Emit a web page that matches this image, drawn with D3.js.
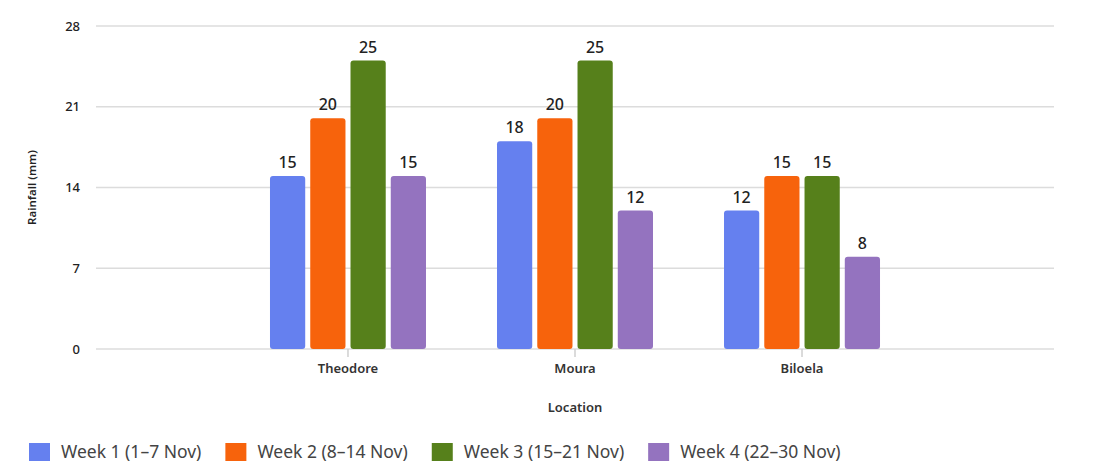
<script src="https://d3js.org/d3.v7.min.js"></script>
<style>
  body { margin: 0; background: #fff; }
  text { font-family: "Noto Sans", "Open Sans", sans-serif; }
</style>
<svg width=1120 height=476 id="chart"></svg>
<script>

// chart data
var locations = ['Theodore', 'Moura', 'Biloela'];
var weeks = ['Week 1 (1–7 Nov)', 'Week 2 (8–14 Nov)', 'Week 3 (15–21 Nov)', 'Week 4 (22–30 Nov)'];
var week1 = [15, 18, 12];
var week2 = [20, 20, 15];
var week3 = [25, 25, 15];
var week4 = [15, 12, 8];
var yTicks = [0, 7, 14, 21, 28];
var colors = ['#6580ef', '#f7630c', '#56801b', '#9473bf'];

var series = [week1, week2, week3, week4];

var svg = d3.select('#chart');

var plotLeft = 96, plotRight = 1054, plotTop = 26, plotBottom = 349;

var x = d3.scalePoint()
  .domain(locations)
  .range([plotLeft, plotRight])
  .padding(1.11);

var inner = d3.scaleBand()
  .domain(d3.range(weeks.length))
  .range([-78, 78])
  .paddingInner(0.125);

var y = d3.scaleLinear()
  .domain([0, 28])
  .range([plotBottom, plotTop]);

// grid lines
svg.append('g')
  .selectAll('line')
  .data(yTicks)
  .enter().append('line')
  .attr('x1', plotLeft)
  .attr('x2', plotRight)
  .attr('y1', function(d) { return y(d); })
  .attr('y2', function(d) { return y(d); })
  .style('stroke', '#dcdcdc')
  .style('stroke-width', 1.5);

// y tick labels
svg.append('g')
  .selectAll('text')
  .data(yTicks)
  .enter().append('text')
  .attr('x', 80)
  .attr('y', function(d) { return y(d); })
  .attr('dy', '0.35em')
  .attr('text-anchor', 'end')
  .style('font-size', '13px')
  .style('font-weight', 500)
  .style('fill', '#222')
  .text(function(d) { return d; });

// x ticks + labels
var xt = svg.append('g')
  .selectAll('g')
  .data(locations)
  .enter().append('g')
  .attr('transform', function(d) { return 'translate(' + x(d) + ',0)'; });

xt.append('line')
  .attr('y1', plotBottom)
  .attr('y2', plotBottom + 8)
  .style('stroke', '#cfcfcf')
  .style('stroke-width', 1.5);

xt.append('text')
  .attr('y', 373)
  .attr('text-anchor', 'middle')
  .style('font-size', '13px')
  .style('font-weight', 600)
  .style('fill', '#333')
  .text(function(d) { return d; });

// axis titles
svg.append('text')
  .attr('x', x('Moura'))
  .attr('y', 412)
  .attr('text-anchor', 'middle')
  .style('font-size', '13px')
  .style('font-weight', 600)
  .style('fill', '#333')
  .text('Location');

svg.append('text')
  .attr('transform', 'translate(36,' + ((plotTop + plotBottom) / 2) + ') rotate(-90)')
  .attr('text-anchor', 'middle')
  .style('font-size', '11.5px')
  .style('font-weight', 600)
  .style('fill', '#222')
  .text('Rainfall (mm)');

// bars
var bars = [];
series.forEach(function(vals, s) {
  vals.forEach(function(v, i) {
    bars.push({loc: locations[i], s: s, v: v});
  });
});

svg.append('g')
  .selectAll('path')
  .data(bars)
  .enter().append('path')
  .attr('d', function(d) {
    var x0 = x(d.loc) + inner(d.s), w = inner.bandwidth();
    var y0 = y(d.v), h = plotBottom - y0, r = 3;
    var p = d3.path();
    p.moveTo(x0, y0 + r);
    p.arcTo(x0, y0, x0 + r, y0, r);
    p.lineTo(x0 + w - r, y0);
    p.arcTo(x0 + w, y0, x0 + w, y0 + r, r);
    p.lineTo(x0 + w, y0 + h - r);
    p.arcTo(x0 + w, y0 + h, x0 + w - r, y0 + h, r);
    p.lineTo(x0 + r, y0 + h);
    p.arcTo(x0, y0 + h, x0, y0 + h - r, r);
    p.closePath();
    return p;
  })
  .attr('fill', function(d) { return colors[d.s]; });

// value labels
svg.append('g')
  .selectAll('text')
  .data(bars)
  .enter().append('text')
  .attr('x', function(d) { return x(d.loc) + inner(d.s) + inner.bandwidth() / 2; })
  .attr('y', function(d) { return y(d.v) - 8; })
  .attr('text-anchor', 'middle')
  .style('font-size', '16px')
  .style('font-weight', 500)
  .style('fill', '#222')
  .text(function(d) { return d.v; });

// legend
var lx = 29;
weeks.forEach(function(w, i) {
  svg.append('rect')
    .attr('x', lx)
    .attr('y', 443)
    .attr('width', 21)
    .attr('height', 18)
    .attr('fill', colors[i]);
  var t = svg.append('text')
    .attr('x', lx + 32)
    .attr('y', 452)
    .attr('dy', '0.35em')
    .style('font-size', '17.5px')
    .style('fill', '#444')
    .text(w);
  lx = lx + 32 + t.node().getComputedTextLength() + 24;
});

</script>
